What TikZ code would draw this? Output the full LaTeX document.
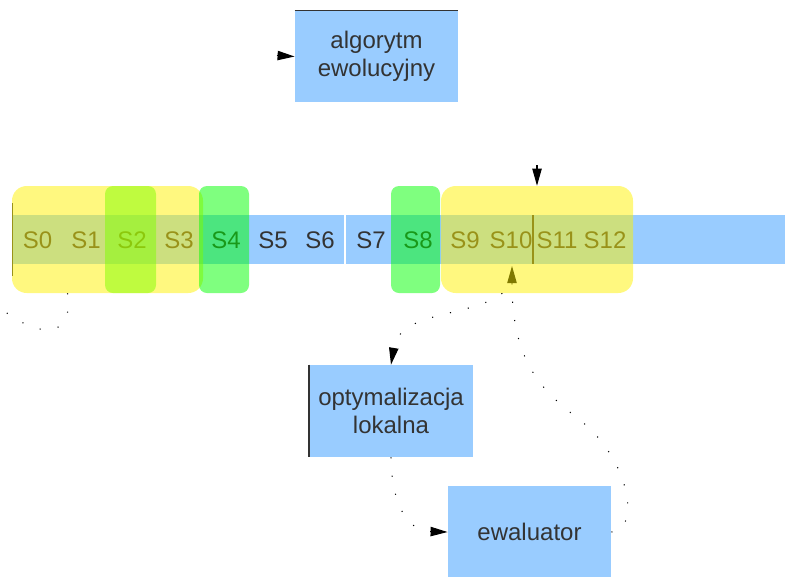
\documentclass[tikz,border=0pt]{standalone}
\usepackage{fontspec}
\setmainfont{Liberation Sans}
\usetikzlibrary{arrows.meta}
\definecolor{boxblue}{HTML}{99CCFF}
\definecolor{ink}{HTML}{333333}
\definecolor{lime}{RGB}{128,255,0}
\pgfdeclarelayer{hilite}
\pgfsetlayers{main,hilite}
\begin{document}
\begin{tikzpicture}[x=0.75pt,y=-0.75pt,
  every node/.style={font=\fontsize{18}{21}\selectfont, text=ink},
  box/.style={fill=boxblue, draw=none, align=center, inner sep=0pt,
    minimum width=122.5pt, minimum height=68.5pt},
  slabel/.style={anchor=base, inner sep=0pt},
  grp/.style={fill opacity=0.5, inner sep=0pt, minimum height=80.25pt},
  yellowgrp/.style={grp, fill=yellow, rounded corners=11pt},
  greensel/.style={grp, fill=green, rounded corners=6pt},
  limesel/.style={grp, fill=lime, rounded corners=6pt},
  head/.style={-{Triangle[length=12.75pt,width=7pt]}},
  flow/.style={head, draw=black, line width=0.8pt, dash pattern=on 0.8pt off 13pt},
  stub/.style={head, draw=black, line width=0.8pt},
  edge/.style={line width=1.2pt}
]
\useasboundingbox (0,0) rectangle (785,576);

% chromosome band with its genes
\node[fill=boxblue, inner sep=0pt, anchor=north west,
      minimum width=579pt, minimum height=36.75pt] (band) at (13,215) {};
\draw[white, line width=1pt] (345,215) -- (345,264);
\draw[ink, line width=1pt] (533,215) -- (533,264);
\draw[black!80, edge] (12.5,203) -- (12.5,276);

\node[slabel] (s0)  at (37.5,248) {S0};
\node[slabel] (s1)  at (86,248)  {S1};
\node[slabel] (s2)  at (132,248) {S2};
\node[slabel] (s3)  at (179,248) {S3};
\node[slabel] (s4)  at (226,248) {S4};
\node[slabel] (s5)  at (273,248) {S5};
\node[slabel] (s6)  at (320,248) {S6};
\node[slabel] (s7)  at (371,248) {S7};
\node[slabel] (s8)  at (418,248) {S8};
\node[slabel] (s9)  at (465,248) {S9};
\node[slabel] (s10) at (511,248) {S10};
\node[slabel] (s11) at (557,248) {S11};
\node[slabel] (s12) at (605,248) {S12};

% process boxes
\node[box] (algo) at (376.5,56.5) {algorytm\\ewolucyjny};
\draw[ink, edge] (algo.north west) -- (algo.north east);
\node[box, minimum width=123pt, minimum height=69pt] (opt) at (391,411) {optymalizacja\\lokalna};
\draw[ink, edge] (opt.north west) -- (opt.south west);
\node[box, minimum height=69pt] (ewal) at (529.5,532) {ewaluator};

% translucent highlights over the band
\begin{pgfonlayer}{hilite}
\node[yellowgrp, minimum width=143.25pt] (g1) at (107.5,239.5) {};
\node[yellowgrp, minimum width=144pt]    (g2) at (537,239.5) {};
\node[limesel,  minimum width=38.25pt]   (h2) at (130.5,239.5) {};
\node[greensel, minimum width=37.5pt]    (h4) at (224,239.5) {};
\node[greensel, minimum width=36.75pt]   (h8) at (415.5,239.5) {};
\end{pgfonlayer}

% connectors
\coordinate (aIn) at (277,55.5);
\draw[stub] (aIn) -- (algo.west);
\coordinate (bIn) at (537,165);
\draw[stub] (bIn) -- (g2.north);
\draw[flow] ([xshift=-26pt]g2.south) .. controls (470,318) and (400,310) .. (opt.north);
\draw[flow] (opt.south) .. controls (392,510) and (410,531) .. (ewal.west);
\coordinate (e10) at (512,266);
\draw[flow] (ewal.east) .. controls (640,531) and (632,462) .. (580,420)
            .. controls (540,390) and (512,360) .. (e10);
\coordinate (fOut) at (-20,290);
\draw[flow, -] ([xshift=-30pt]g1.south) .. controls (75,345) and (30,340) .. (fOut);
\end{tikzpicture}
\end{document}
